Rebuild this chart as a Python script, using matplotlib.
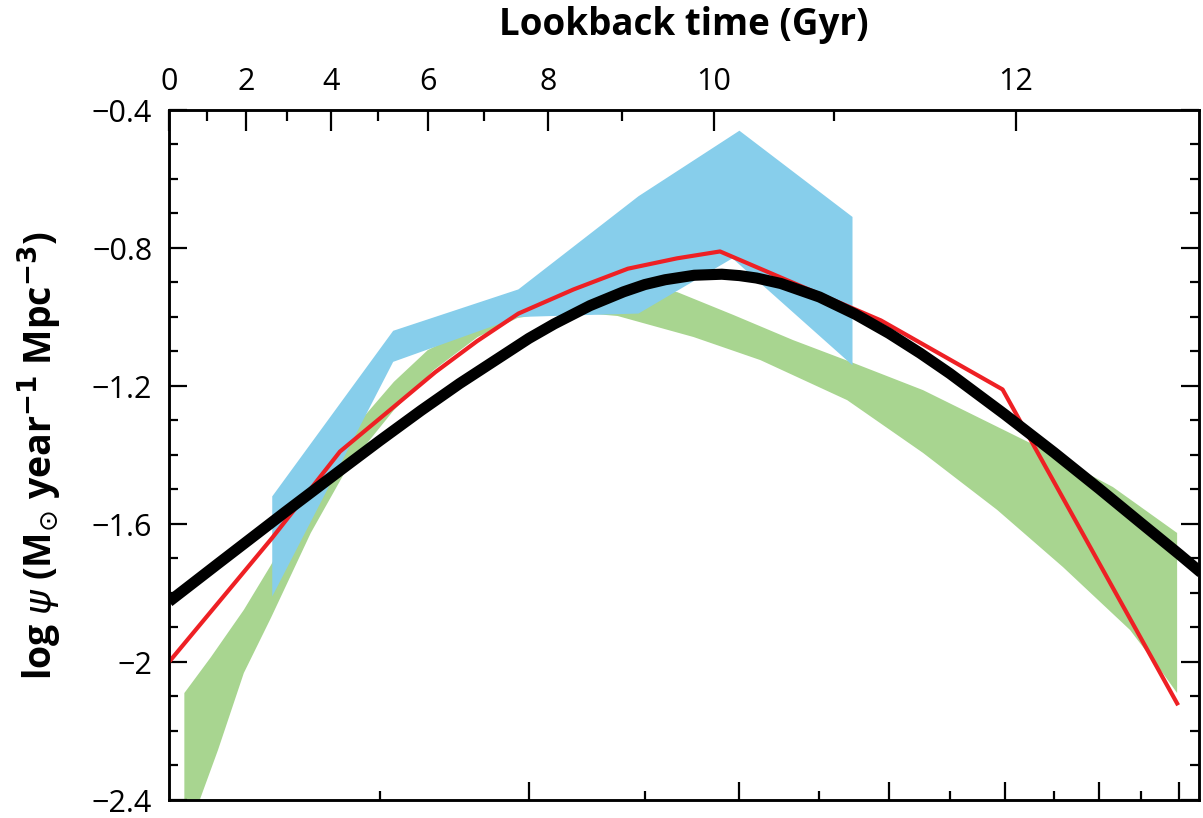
import numpy as np
import matplotlib.pyplot as plt

# --- values (x as redshift z, y as log psi) ---

# black curve (best fit)
fit_z = [0, 0.1, 0.25, 0.4, 0.5, 0.625, 0.75, 1.0, 1.1, 1.25, 1.4, 1.5, 1.6, 1.75, 1.9,
         2.0, 2.1, 2.25, 2.5, 2.75, 3.0, 3.25, 3.5, 4.0, 4.5, 5.0, 5.5, 6.0, 6.3]
fit_sfr = [-1.825, -1.714, -1.566, -1.437, -1.359, -1.271, -1.193, -1.062, -1.020, -0.967,
           -0.927, -0.906, -0.892, -0.879, -0.876, -0.880, -0.887, -0.903, -0.942, -0.992,
           -1.047, -1.105, -1.164, -1.282, -1.393, -1.498, -1.597, -1.688, -1.741]

# red line
red_z = [0, 0.22, 0.39, 0.53, 0.67, 0.81, 0.96, 1.18, 1.42, 1.66, 1.89, 2.94, 3.98, 5.97]
red_sfr = [-2.0, -1.64, -1.39, -1.27, -1.16, -1.07, -0.99, -0.92, -0.86, -0.83, -0.81,
           -1.01, -1.21, -2.12]

# blue band
blue_z_hi = [0.22, 0.54, 0.96, 1.47, 2.0, 2.73]
blue_hi = [-1.52, -1.04, -0.92, -0.65, -0.46, -0.71]
blue_z_lo = [0.22, 0.54, 0.96, 1.47, 1.96, 2.73]
blue_lo = [-1.81, -1.13, -1.00, -0.99, -0.83, -1.14]

# green band
green_z_hi = [0.03, 0.084, 0.155, 0.217, 0.322, 0.447, 0.542, 0.646, 0.812, 0.957, 1.126,
              1.296, 1.48, 1.662, 1.965, 2.327, 2.735, 3.273, 4.25, 5.16, 5.97]
green_hi = [-2.09, -1.986, -1.849, -1.719, -1.493, -1.299, -1.188, -1.096, -1.023, -0.974,
            -0.942, -0.922, -0.916, -0.928, -0.994, -1.067, -1.133, -1.212, -1.365,
            -1.493, -1.626]
green_z_lo = [0.03, 0.061, 0.099, 0.155, 0.217, 0.314, 0.411, 0.542, 0.665, 0.812, 0.957,
              1.126, 1.372, 1.746, 2.124, 2.692, 3.273, 3.928, 4.595, 5.365, 5.78, 5.97]
green_lo = [-2.52, -2.40, -2.255, -2.032, -1.872, -1.626, -1.435, -1.270, -1.154, -1.058,
            -1.003, -0.983, -0.997, -1.058, -1.125, -1.241, -1.394, -1.559, -1.725,
            -1.907, -2.032, -2.090]

# axis ticks
y_ticks = [-2.4, -2.0, -1.6, -1.2, -0.8, -0.4]
y_labels = ['\u22122.4', '\u22122', '\u22121.6', '\u22121.2', '\u22120.8', '\u22120.4']
z_major = [1, 2, 3, 4, 5, 6]
z_minor = [0.5, 1.5, 2.5, 3.5, 4.5, 5.5]
t_ticks = list(range(0, 13))  # lookback time, Gyr
z_max = 6.27


def lz(z):
    return np.log10(1 + np.asarray(z, dtype=float))


# lookback time (H0=70, Om=0.3, OL=0.7) -> redshift, for the top axis
zz = np.linspace(0, 12, 6001)
integrand = 1 / ((1 + zz) * np.sqrt(0.3 * (1 + zz) ** 3 + 0.7))
tl = 977.8 / 70 * np.concatenate([[0], np.cumsum(0.5 * (integrand[1:] + integrand[:-1]) * np.diff(zz))])
t_pos = lz(np.interp(t_ticks, tl, zz))

plt.rcParams['font.family'] = ['Open Sans', 'DejaVu Sans']

fig = plt.figure(figsize=(12.03, 8.18), dpi=100)
ax = fig.add_axes([169 / 1203, 1 - 800 / 818, 1030 / 1203, 690 / 818])

# bands
ax.fill(np.concatenate([lz(green_z_hi), lz(green_z_lo)[::-1]]),
        np.concatenate([green_hi, green_lo[::-1]]),
        color='#a8d590', lw=0, zorder=1)
ax.fill(np.concatenate([lz(blue_z_hi), lz(blue_z_lo)[::-1]]),
        np.concatenate([blue_hi, blue_lo[::-1]]),
        color='#87ceeb', lw=0, zorder=2)

# lines
ax.plot(lz(red_z), red_sfr, color='#ee2024', lw=3.0, zorder=3)
ax.plot(lz(fit_z), fit_sfr, color='black', lw=8, solid_capstyle='butt',
        solid_joinstyle='round', zorder=4)

ax.set_xlim(0, lz(z_max))
ax.set_ylim(-2.4, -0.4)

# bottom: log(1+z) ticks, no labels
ax.set_xticks(lz(z_major))
ax.set_xticks(lz(z_minor), minor=True)
ax.set_xticklabels([])
ax.set_yticks(y_ticks)
ax.set_yticklabels(y_labels, fontsize=22)
ax.set_yticks(np.arange(-2.3, -0.4, 0.1), minor=True)
ax.tick_params(which='both', direction='in', width=1.6, left=True, right=True,
               bottom=True, top=False)
ax.tick_params(which='major', length=13, pad=12)
ax.tick_params(which='minor', length=6.5)
for s in ax.spines.values():
    s.set_linewidth(1.8)

ax.set_ylabel(r'log $\psi$ (M$_{\odot}$ year$^{\mathbf{-1}}$ Mpc$^{\mathbf{-3}}$)',
              fontsize=27, fontweight='bold', va='center')
ax.yaxis.set_label_coords(-0.125, 0.5)

# top: lookback time
ax2 = ax.twiny()
ax2.set_xlim(ax.get_xlim())
ax2.set_xticks(t_pos[::2])
ax2.set_xticklabels([str(t) for t in t_ticks[::2]], fontsize=22)
ax2.set_xticks(t_pos[1::2], minor=True)
ax2.tick_params(which='both', direction='in', width=1.6)
ax2.tick_params(which='major', length=15, pad=9)
ax2.tick_params(which='minor', length=8)
for s in ax2.spines.values():
    s.set_linewidth(1.8)
ax2.set_xlabel('Lookback time (Gyr)', fontsize=26.5, fontweight='bold', va='center')
ax2.xaxis.set_label_coords(0.5, 1.123)

fig.savefig('out.png', dpi=100)
